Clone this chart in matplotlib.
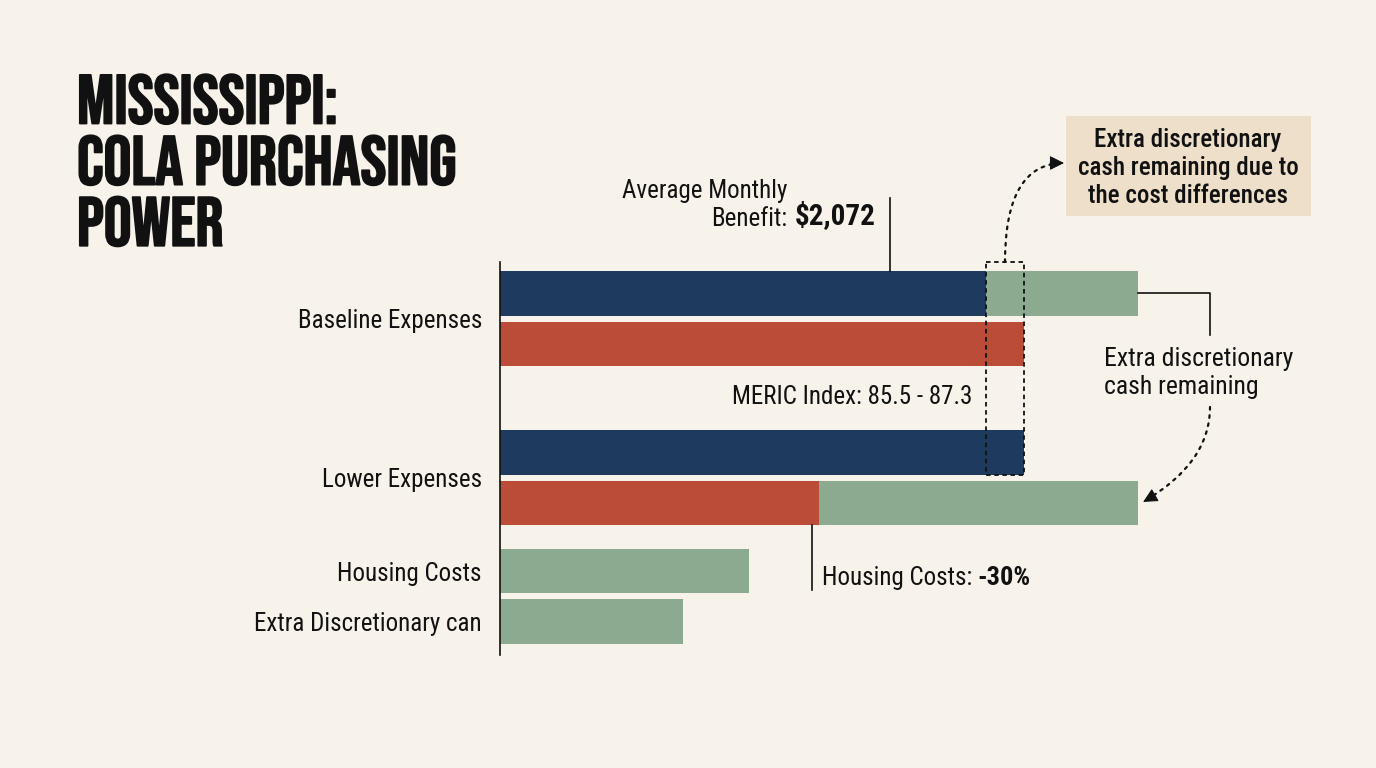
import matplotlib
matplotlib.use('Agg')
import matplotlib.pyplot as plt
import matplotlib.patheffects as pe
from matplotlib.patches import Rectangle

W, H = 1376, 768
BG = '#F7F3EB'
NAVY = '#1E3A5F'
RED = '#BA4C38'
GREEN = '#8CAA8F'
BOX = '#EEDFCB'
INK = '#111111'

BODY = ['Roboto Condensed', 'Barlow Semi Condensed', 'DejaVu Sans']
TITLE = ['Bebas Neue', 'Oswald', 'DejaVu Sans']

# values as share of the full bar (%)
groups = ['Baseline Expenses', 'Lower Expenses', 'Housing Costs', 'Extra Discretionary can']
benefit = [76.2, 82.1]       # navy bars
expenses = [82.1, 50.0]      # red bars
total = [100.0, 100.0]       # end of the green remainder
housing = 39.0
extra = 28.7
benefit_mark = 61.1
housing_mark = 48.9
benefit_label = '$2,072'
meric_label = 'MERIC Index: 85.5 - 87.3'
housing_change = '-30%'

# row layout
rows_benefit = [0, 3.15]
rows_exp = [1, 4.15]
row_housing = 5.5
row_extra = 6.5
label_rows = [0.5, 3.65, 5.5, 6.5]
bh = 0.88
FS = 18


def px(x, y):
    return x / W, 1 - y / H


def dotted_arrow(ax, start, end, start_coords, end_coords, conn, head_from):
    # dotted curve, then a solid head along the last bit of the curve
    ax.annotate('', xy=end, xycoords=end_coords, xytext=start, textcoords=start_coords,
                annotation_clip=False,
                arrowprops=dict(arrowstyle='-', color=INK, lw=1.6, ls=(0, (1.2, 2.5)),
                                connectionstyle=conn, shrinkA=0, shrinkB=0))
    ax.annotate('', xy=end, xycoords=end_coords, xytext=head_from, textcoords=end_coords,
                annotation_clip=False,
                arrowprops=dict(arrowstyle='-|>', color=INK, lw=0.8, mutation_scale=22,
                                shrinkA=0, shrinkB=0))


fig = plt.figure(figsize=(W / 100, H / 100), dpi=100, facecolor=BG)
ax = fig.add_axes([500 / W, 1 - 655 / H, 638 / W, (655 - 262) / H])
ax.set_facecolor('none')

ax.barh(rows_benefit, benefit, height=bh, color=NAVY)
ax.barh(rows_exp, expenses, height=bh, color=RED)
ax.barh(rows_benefit[0], total[0] - benefit[0], left=benefit[0], height=bh, color=GREEN)
ax.barh(rows_exp[1], total[1] - expenses[1], left=expenses[1], height=bh, color=GREEN)
ax.barh([row_housing, row_extra], [housing, extra], height=bh, color=GREEN)

ax.set_xlim(0, 100)
ax.set_ylim(7.16, -0.62)
for s in ['top', 'right', 'bottom']:
    ax.spines[s].set_visible(False)
ax.spines['left'].set_linewidth(1.2)
ax.spines['left'].set_color(INK)
ax.set_xticks([])
ax.set_yticks(label_rows)
ax.set_yticklabels(groups, family=BODY, fontsize=FS, color=INK)
ax.tick_params(axis='y', length=0, pad=13)

# title
fig.text(*px(77, 75), 'MISSISSIPPI:\nCOLA PURCHASING\nPOWER', va='top', ha='left',
         fontsize=50, family=TITLE, color=INK, linespacing=1.25,
         path_effects=[pe.withStroke(linewidth=1.3, foreground=INK)])

# average benefit callout
ax.plot([benefit_mark, benefit_mark], [-bh / 2, -1.89], color=INK, lw=1.2, clip_on=False)
fig.text(*px(787, 191), 'Average Monthly', ha='right', va='center', fontsize=FS, family=BODY, color=INK)
fig.text(*px(787, 219), 'Benefit:', ha='right', va='center', fontsize=FS, family=BODY, color=INK)
fig.text(*px(795, 216), benefit_label, ha='left', va='center', fontsize=21, family=BODY,
         fontweight='bold', color=INK)

# MERIC index
ax.text(74.1, 2.05, meric_label, ha='right', va='center', fontsize=FS, family=BODY, color=INK)

# dashed box around the cost difference
x0, x1 = benefit[0], expenses[0]
ax.add_patch(Rectangle((x0, -0.62), x1 - x0, rows_benefit[1] + bh / 2 + 0.62, fill=False,
                       ec=INK, lw=1.3, ls=(0, (2.5, 2)), clip_on=False))

# top note
fig.patches.append(Rectangle(px(1066, 216), 245 / W, 100 / H, transform=fig.transFigure,
                             facecolor=BOX, edgecolor='none'))
fig.text(*px(1188, 168), 'Extra discretionary\ncash remaining due to\nthe cost differences',
         ha='center', va='center', fontsize=FS, family=BODY, fontweight='medium',
         color=INK, linespacing=1.22)
dotted_arrow(ax, ((x0 + x1) / 2, -0.62), px(1064, 163), 'data', 'figure fraction',
             'angle3,angleA=90,angleB=0', px(1050, 163))

# side note
ax.plot([total[0], 111.3, 111.3], [rows_benefit[0], rows_benefit[0], 0.82], color=INK, lw=1.2,
        clip_on=False)
fig.text(*px(1104, 373), 'Extra discretionary\ncash remaining', ha='left', va='center',
         fontsize=18.5, family=BODY, color=INK, linespacing=1.22)
dotted_arrow(ax, px(1210, 407), (100.8, rows_exp[1] - 0.02), 'figure fraction', 'data',
             'angle3,angleA=90,angleB=30', (102.6, rows_exp[1] - 0.15))

# housing cost callout
ax.plot([housing_mark, housing_mark], [rows_exp[1] + bh / 2, 5.87], color=INK, lw=1.2, clip_on=False)
t = ax.text(housing_mark + 1.5, 5.63, 'Housing Costs: ', ha='left', va='center', fontsize=FS,
            family=BODY, color=INK)
fig.canvas.draw()
bb = t.get_window_extent().transformed(ax.transData.inverted())
ax.text(bb.x1, 5.63, housing_change, ha='left', va='center', fontsize=FS + 1, family=BODY,
        fontweight='bold', color=INK)

fig.savefig('out.png', dpi=100, facecolor=BG)
